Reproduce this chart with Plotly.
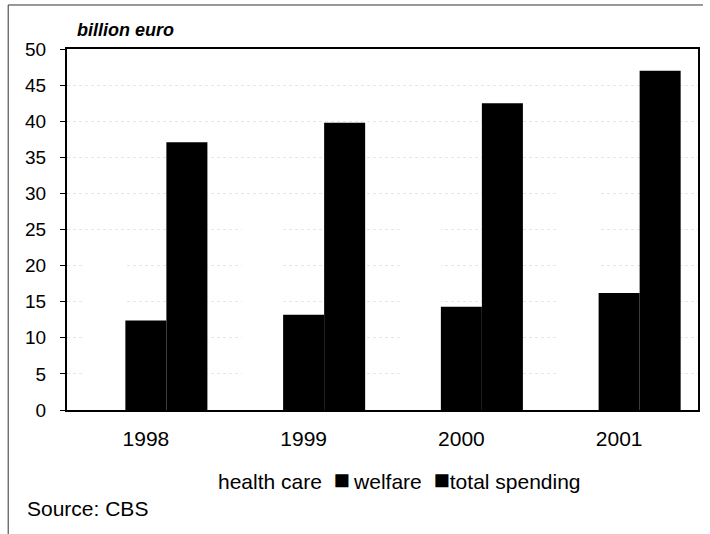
import plotly.graph_objects as go

years = ["1998", "1999", "2000", "2001"]
health_care = [24.7, 26.5, 28.2, 30.8]
welfare = [12.4, 13.2, 14.3, 16.2]
total_spending = [37.1, 39.8, 42.5, 47.0]
legend_labels = ["health care", "welfare", "total spending"]

fig = go.Figure()
fig.add_trace(go.Bar(name=legend_labels[0], x=years, y=health_care,
                     marker=dict(color="white", line=dict(width=0))))
fig.add_trace(go.Bar(name=legend_labels[1], x=years, y=welfare,
                     marker=dict(color="black", line=dict(width=0))))
fig.add_trace(go.Bar(name=legend_labels[2], x=years, y=total_spending,
                     marker=dict(color="black", line=dict(width=0))))

font = "Liberation Sans, Arial, sans-serif"
sq = '<span style="font-size:27px">■</span>'
legend_text = (f"{legend_labels[0]}\u00a0\u00a0{sq}\u2009{legend_labels[1]}"
               f"\u00a0\u00a0{sq}{legend_labels[2]}")

fig.update_layout(
    width=710, height=534,
    margin=dict(l=67, r=10, t=49, b=124),
    paper_bgcolor="white", plot_bgcolor="white",
    barmode="group", bargap=0.22, bargroupgap=0,
    font=dict(family=font, size=21, color="black"),
    showlegend=False,
    xaxis=dict(showline=True, linecolor="black", linewidth=2, mirror=True,
               ticks="", tickfont=dict(size=21), showgrid=False,
               ticklabelstandoff=9),
    yaxis=dict(range=[0, 50], dtick=5, showline=True, linecolor="black", linewidth=2,
               mirror=True, ticks="outside", ticklen=5, tickcolor="black",
               tickfont=dict(size=19), showgrid=True, gridcolor="#e6e6e6",
               griddash="dot", gridwidth=1, zeroline=False,
               ticklabelstandoff=10),
    annotations=[
        dict(text="<b><i>billion euro</i></b>", xref="paper", yref="paper",
             x=0.0126, y=1.0526, xanchor="left", yanchor="middle",
             showarrow=False, font=dict(size=18)),
        dict(text=legend_text, xref="paper", yref="paper",
             x=0.5276, y=-0.194, xanchor="center", yanchor="middle",
             showarrow=False, font=dict(size=21)),
        dict(text="Source: CBS", xref="paper", yref="paper",
             x=-0.0664, y=-0.2715, xanchor="left", yanchor="middle",
             showarrow=False, font=dict(size=21)),
    ],
    shapes=[
        dict(type="line", xref="paper", yref="paper",
             x0=-0.0932, x1=1.0079, y0=1.1219, y1=1.1219,
             line=dict(color="#333333", width=1)),
        dict(type="line", xref="paper", yref="paper",
             x0=-0.0932, x1=-0.0932, y0=1.1219, y1=-0.3435,
             line=dict(color="#333333", width=1)),
    ],
)

fig.write_html("out.html")
